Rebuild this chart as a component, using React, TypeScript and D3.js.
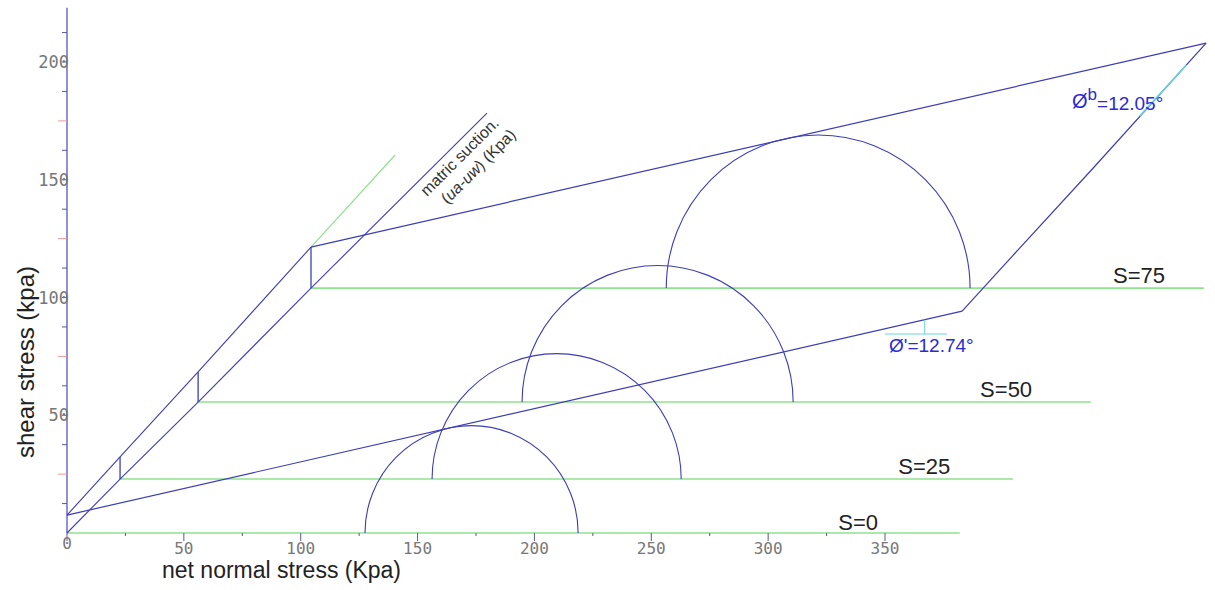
import React from "react";
import * as d3 from "d3";

// ---- data (chart units: net normal stress / shear stress, kPa) ----
const suctionLevels = [0, 25, 50, 75];
const levelLabels = ["S=0", "S=25", "S=50", "S=75"];
// drawn origin of each suction plane (skewed projection)
const levelOffsetX = [0, 22.7, 56.1, 104.4];
const levelOffsetY = [0, 22.9, 55.6, 104.0];
// apparent cohesion drawn at each level
const levelCohesion = [7.6, 9.4, 12.8, 17.4];
const levelLabelX = [330, 333, 334.6, 343.2];
const baseLength = 382;
const envelopeLength = 383;
const phiPrimeDeg = 12.74;
const phiB = "12.05°";
const phiP = "12.74°";

// Mohr circles (sigma3, sigma1 as drawn on the net normal stress axis)
const circleLevel = [0, 1, 2, 3];
const circleSigma3 = [127.5, 156.2, 194.7, 256.4];
const circleSigma1 = [218.7, 262.8, 310.7, 386.4];

// suction axis end / green extension end
const suctionAxisEnd = [179.7, 178.3];
const greenExtEnd = [140.4, 160.5];

const xTicks = d3.range(0, 351, 25);
const xTickLabels = [0, 50, 100, 150, 200, 250, 300, 350];
const yTicks = d3.range(12.5, 220, 12.5);
const yTickLabels = [0, 50, 100, 150, 200];
const yAxisMax = 223;

const BLUE = "#3d3db5";
const GREEN = "#8ee28e";
const CYAN = "#66d4e8";
const LABEL_BLUE = "#2a2ad8";

export default function App() {
  const x = d3.scaleLinear().domain([0, 350]).range([67, 885]);
  const y = d3.scaleLinear().domain([0, 200]).range([533, 62]);
  const tanP = Math.tan((phiPrimeDeg * Math.PI) / 180);

  const line = d3
    .line<number[]>()
    .x((d) => x(d[0]))
    .y((d) => y(d[1]));

  const origins = suctionLevels.map((_, i) => [levelOffsetX[i], levelOffsetY[i]]);
  const tops = suctionLevels.map((_, i) => [levelOffsetX[i], levelOffsetY[i] + levelCohesion[i]]);
  const ends = suctionLevels.map((_, i) => [
    levelOffsetX[i] + envelopeLength,
    levelOffsetY[i] + levelCohesion[i] + envelopeLength * tanP,
  ]);
  const last = suctionLevels.length - 1;

  const kx0 = 459, kx1 = 479;
  const kSlope = (ends[last][1] - ends[0][1]) / (ends[last][0] - ends[0][0]);
  const kAt = (sx: number) => [sx, ends[0][1] + (sx - ends[0][0]) * kSlope];

  const markSigma0 = 350, markSigma1 = 376.5, markTau = 84.5, markTick = 367;

  return (
    <svg
      width={1215}
      height={590}
      style={{ position: "absolute", left: 0, top: 0, background: "#fff" }}
      fontFamily="'Liberation Sans', Arial, sans-serif"
    >
      {/* green base lines for each suction */}
      {suctionLevels.map((s, i) => (
        <line
          key={"g" + s}
          x1={x(levelOffsetX[i])}
          x2={x(levelOffsetX[i] + baseLength)}
          y1={y(levelOffsetY[i])}
          y2={y(levelOffsetY[i])}
          stroke={GREEN}
          strokeWidth={1.6}
        />
      ))}
      {/* green extension */}
      <path d={line([tops[last], greenExtEnd]) || ""} stroke={GREEN} strokeWidth={1.2} fill="none" />

      {/* y axis */}
      <line x1={x(0)} x2={x(0)} y1={y(0)} y2={y(yAxisMax)} stroke="#7474d4" strokeWidth={1.6} />
      {yTicks.map((t) => {
        const red = t % 25 === 0 && t % 50 !== 0;
        return (
          <line
            key={"yt" + t}
            x1={x(0) - (red ? 9 : 5)}
            x2={x(0)}
            y1={y(t)}
            y2={y(t)}
            stroke={red ? "#e89a9a" : "#5a5a9a"}
            strokeWidth={1}
          />
        );
      })}
      {xTicks.map((t) => (
        <line
          key={"xt" + t}
          x1={x(t)}
          x2={x(t)}
          y1={y(0)}
          y2={y(0) + (t % 50 === 0 ? 8 : 3)}
          stroke="#5a5a8a"
          strokeWidth={1}
        />
      ))}
      {xTickLabels.map((t) => (
        <text
          key={"xl" + t}
          x={x(t)}
          y={t === 0 ? 549 : 554}
          textAnchor="middle"
          fontFamily="'DejaVu Sans Mono', monospace"
          fontSize={16}
          fill="#777"
        >
          {t}
        </text>
      ))}
      {yTickLabels
        .filter((t) => t > 0)
        .map((t) => (
          <text
            key={"yl" + t}
            x={x(0) + 2}
            y={y(t) + 6}
            textAnchor="end"
            fontFamily="'DejaVu Sans Mono', monospace"
            fontSize={17}
            fill="#777"
          >
            {t}
          </text>
        ))}

      {/* suction axis through level origins */}
      <path d={line([...origins, suctionAxisEnd]) || ""} stroke={BLUE} strokeWidth={1.1} fill="none" />
      {/* cohesion line through level tops */}
      <path d={line(tops) || ""} stroke={BLUE} strokeWidth={1.1} fill="none" />
      {/* verticals at each level */}
      {suctionLevels.slice(1).map((s, j) => {
        const i = j + 1;
        return (
          <line
            key={"v" + s}
            x1={x(origins[i][0])}
            x2={x(tops[i][0])}
            y1={y(origins[i][1])}
            y2={y(tops[i][1])}
            stroke={BLUE}
            strokeWidth={1.3}
          />
        );
      })}
      {/* failure envelopes (S=0 and S=75) */}
      <path d={line([tops[0], ends[0]]) || ""} stroke={BLUE} strokeWidth={1.2} fill="none" />
      <path d={line([tops[last], ends[last]]) || ""} stroke={BLUE} strokeWidth={1.2} fill="none" />
      {/* line joining envelope ends */}
      <path d={line(ends) || ""} stroke={BLUE} strokeWidth={1.2} fill="none" />
      <path d={line([kAt(kx0), kAt(kx1)]) || ""} stroke={CYAN} strokeWidth={1.6} fill="none" />

      {/* Mohr circles */}
      {circleLevel.map((lv, k) => {
        const c = (circleSigma3[k] + circleSigma1[k]) / 2;
        const r = (circleSigma1[k] - circleSigma3[k]) / 2;
        const rx = x(r) - x(0);
        const ry = y(0) - y(r);
        const base = y(levelOffsetY[lv]);
        return (
          <path
            key={"c" + k + c}
            d={`M${x(circleSigma3[k])},${base} A${rx},${ry} 0 0 1 ${x(circleSigma1[k])},${base}`}
            stroke={BLUE}
            strokeWidth={1.1}
            fill="none"
          />
        );
      })}

      {/* phi' marker */}
      <line x1={x(markSigma0)} x2={x(markSigma1)} y1={y(markTau)} y2={y(markTau)} stroke={CYAN} strokeWidth={1.2} />
      <line
        x1={x(markTick)}
        x2={x(markTick)}
        y1={y(markTau)}
        y2={y(levelCohesion[0] + markTick * tanP)}
        stroke={CYAN}
        strokeWidth={1}
      />

      {/* S labels */}
      {levelLabels.map((lab, i) => (
        <text
          key={lab}
          x={x(levelOffsetX[i] + levelLabelX[i])}
          y={y(levelOffsetY[i]) - (i === 0 ? 3 : 5)}
          fontSize={22}
          fill="#222"
        >
          {lab}
        </text>
      ))}

      {/* angle labels */}
      <text x={1072} y={108} fontSize={20} fill={LABEL_BLUE}>
        Ø<tspan dy={-8} fontSize={17}>b</tspan>
        <tspan dy={10} fontSize={19}>{"=" + phiB}</tspan>
      </text>
      <text x={889} y={352} fontSize={19} fill={LABEL_BLUE}>
        {"Ø'=" + phiP}
      </text>

      {/* suction axis label */}
      <g transform="translate(427,197) rotate(-45)">
        <text x={0} y={0} fontSize={16} fill="#333">
          matric suction.
        </text>
        <text x={9} y={20} fontSize={16} fill="#333">
          (<tspan fontStyle="italic">ua-uw</tspan>) (Kpa)
        </text>
      </g>

      {/* axis titles */}
      <text x={162} y={578} fontSize={23} fill="#222">
        net normal stress (Kpa)
      </text>
      <text transform="translate(34,362) rotate(-90)" textAnchor="middle" fontSize={24} fill="#222">
        shear stress (kpa)
      </text>
    </svg>
  );
}
